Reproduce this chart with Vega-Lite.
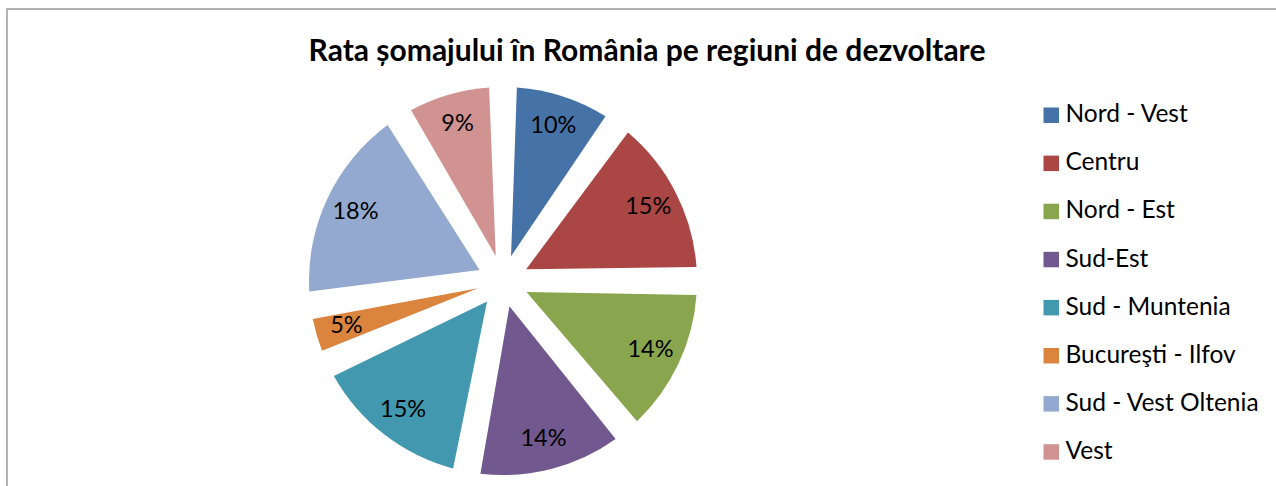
{
  "$schema": "https://vega.github.io/schema/vega-lite/v6.json",
  "autosize": {"type": "none"},
  "padding": {"left": 7, "top": 9, "right": 0, "bottom": 0},
  "width": 1280,
  "height": 490,
  "background": "white",
  "view": {"stroke": "#9a9a9a", "strokeWidth": 1.5},
  "config": {
    "view": {"stroke": "#9a9a9a", "strokeWidth": 1.5},
    "font": "Lato"
  },
  "title": {
    "text": "Rata șomajului în România pe regiuni de dezvoltare",
    "font": "Lato",
    "fontSize": 30,
    "fontWeight": "bold",
    "color": "#000000",
    "anchor": "middle",
    "frame": "group",
    "baseline": "alphabetic",
    "offset": -82
  },
  "data": {
    "values": [
      {"regiune": "Nord - Vest", "procent": 0.10, "ordine": 1},
      {"regiune": "Centru", "procent": 0.15, "ordine": 2},
      {"regiune": "Nord - Est", "procent": 0.14, "ordine": 3},
      {"regiune": "Sud-Est", "procent": 0.14, "ordine": 4},
      {"regiune": "Sud - Muntenia", "procent": 0.15, "ordine": 5},
      {"regiune": "Bucureşti - Ilfov", "procent": 0.05, "ordine": 6},
      {"regiune": "Sud - Vest Oltenia", "procent": 0.18, "ordine": 7},
      {"regiune": "Vest", "procent": 0.09, "ordine": 8}
    ]
  },
  "encoding": {
    "theta": {"field": "procent", "type": "quantitative", "stack": true},
    "order": {"field": "ordine", "type": "quantitative"}
  },
  "layer": [
    {
      "mark": {
        "type": "arc",
        "outerRadius": 194,
        "innerRadius": 26,
        "padAngle": 0.142,
        "xOffset": -144,
        "yOffset": 27
      },
      "encoding": {
        "color": {
          "field": "regiune",
          "type": "nominal",
          "sort": null,
          "scale": {
            "domain": ["Nord - Vest", "Centru", "Nord - Est", "Sud-Est", "Sud - Muntenia", "Bucureşti - Ilfov", "Sud - Vest Oltenia", "Vest"],
            "range": ["#4572A7", "#AA4643", "#89A54E", "#71588F", "#4198AF", "#DB843D", "#93A9CF", "#D19392"]
          },
          "legend": {
            "title": null,
            "orient": "none",
            "legendX": 1032,
            "legendY": 94,
            "padding": 0,
            "symbolType": "square",
            "symbolSize": 240,
            "symbolStrokeWidth": 0,
            "labelFont": "Lato",
            "labelFontSize": 24.5,
            "labelColor": "#000000",
            "labelOffset": 2,
            "rowPadding": 23.1,
            "labelLimit": 300
          }
        }
      }
    },
    {
      "mark": {
        "type": "text",
        "radius": 163,
        "xOffset": -144,
        "yOffset": 27,
        "font": "Lato",
        "fontSize": 23.5,
        "color": "#000000"
      },
      "encoding": {
        "text": {"field": "procent", "type": "quantitative", "format": ".0%"},
        "detail": {"field": "regiune"}
      }
    }
  ]
}
